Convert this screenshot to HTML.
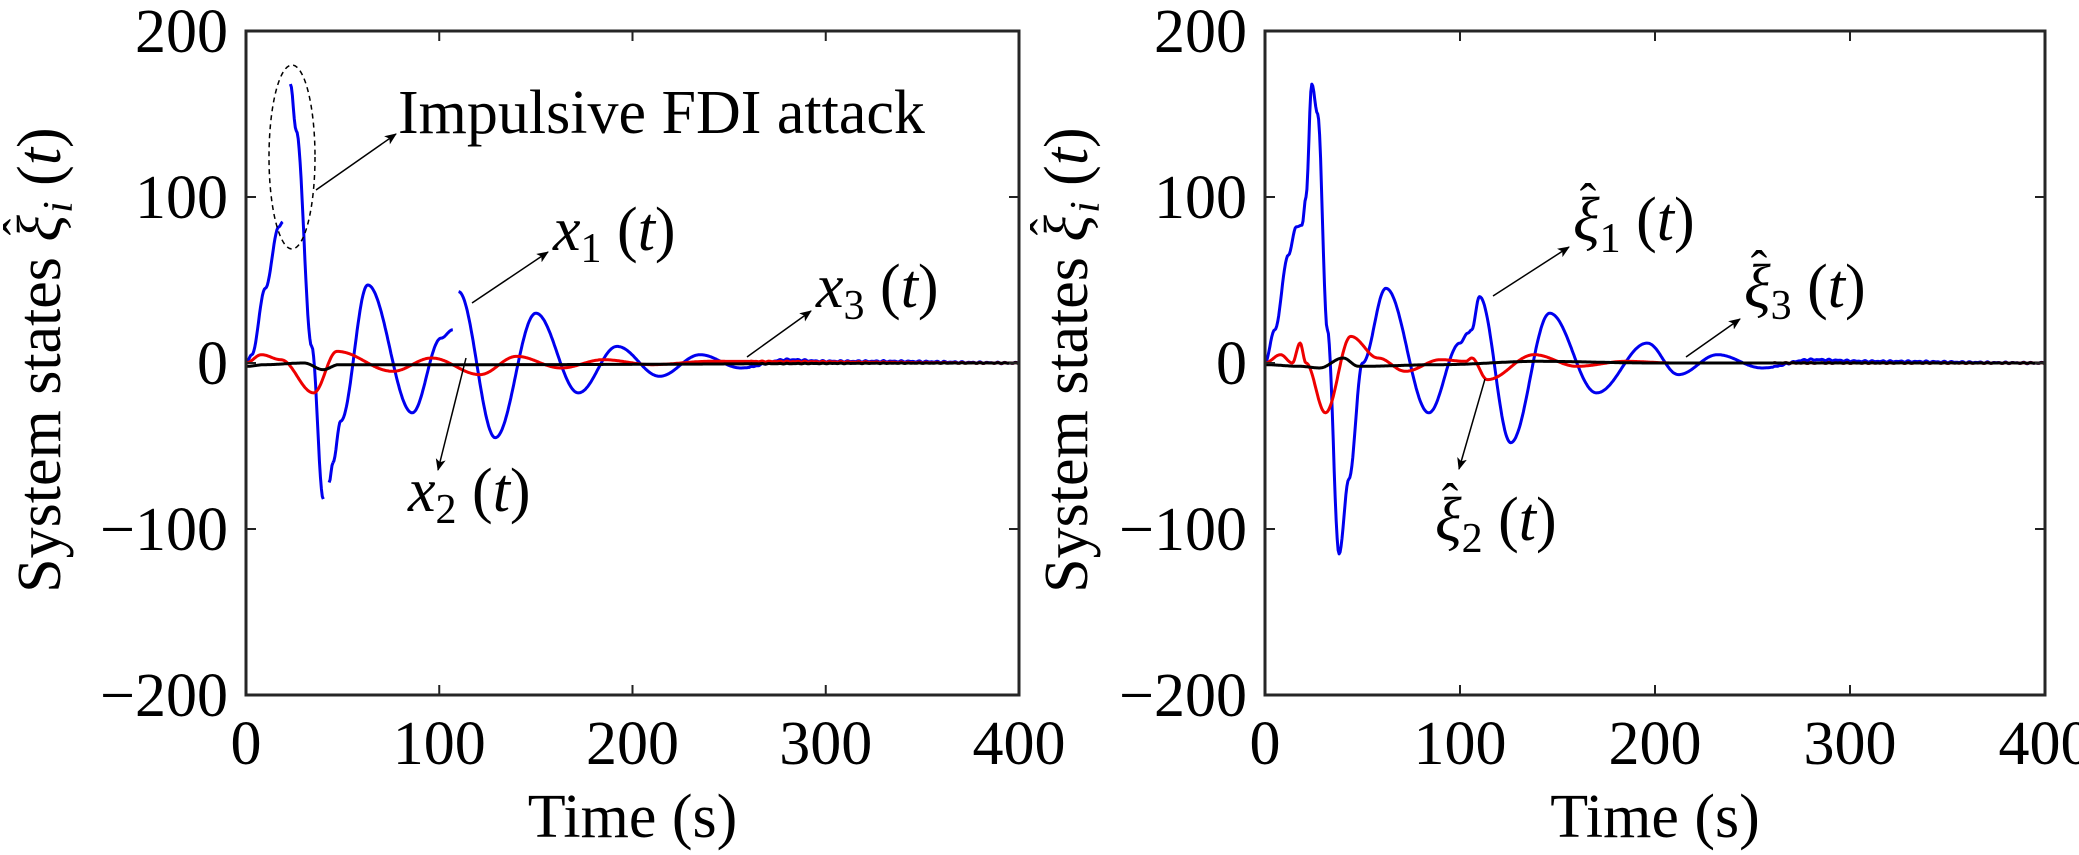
<!DOCTYPE html>
<html><head><meta charset="utf-8"><style>
html,body{margin:0;padding:0;background:#fff}
svg{display:block}
text{font-family:"Liberation Serif",serif;fill:#000}
</style></head><body>
<svg id="s" width="2079" height="855" viewBox="0 0 2079 855" xmlns="http://www.w3.org/2000/svg">
<defs>
<marker id="ar" markerWidth="12" markerHeight="10" refX="11" refY="5" orient="auto" markerUnits="userSpaceOnUse">
<path d="M0,0 L12,5 L0,10 L3,5 Z" fill="#000"/></marker>
</defs>
<g id="g"></g>
<ellipse cx="292" cy="157" rx="23" ry="92" fill="none" stroke="#000" stroke-width="1.5" stroke-dasharray="5,4"/>
<line x1="316" y1="190" x2="396" y2="134" stroke="#000" stroke-width="1.5" marker-end="url(#ar)"/>
<text x="398" y="133" font-size="62">Impulsive FDI attack</text>
<line x1="472" y1="303" x2="548" y2="252" stroke="#000" stroke-width="1.5" marker-end="url(#ar)"/>
<text x="553" y="250" font-size="62"><tspan font-style="italic">x</tspan><tspan font-size="42" dy="12">1</tspan><tspan dy="-12"> (</tspan><tspan font-style="italic">t</tspan>)</text>
<line x1="466" y1="358" x2="438" y2="470" stroke="#000" stroke-width="1.5" marker-end="url(#ar)"/>
<text x="408" y="511" font-size="62"><tspan font-style="italic">x</tspan><tspan font-size="42" dy="12">2</tspan><tspan dy="-12"> (</tspan><tspan font-style="italic">t</tspan>)</text>
<line x1="747" y1="357" x2="811" y2="311" stroke="#000" stroke-width="1.5" marker-end="url(#ar)"/>
<text x="816" y="307" font-size="62"><tspan font-style="italic">x</tspan><tspan font-size="42" dy="12">3</tspan><tspan dy="-12"> (</tspan><tspan font-style="italic">t</tspan>)</text>

<line x1="1493" y1="296" x2="1569" y2="247" stroke="#000" stroke-width="1.5" marker-end="url(#ar)"/>
<text x="1573" y="240" font-size="62"><tspan font-style="italic">ξ</tspan><tspan font-size="42" dy="12">1</tspan><tspan dy="-12"> (</tspan><tspan font-style="italic">t</tspan>)</text>
<text x="1588" y="218" font-size="50" text-anchor="middle">ˆ</text>
<line x1="1485" y1="379" x2="1459" y2="469" stroke="#000" stroke-width="1.5" marker-end="url(#ar)"/>
<text x="1435" y="540" font-size="62"><tspan font-style="italic">ξ</tspan><tspan font-size="42" dy="12">2</tspan><tspan dy="-12"> (</tspan><tspan font-style="italic">t</tspan>)</text>
<text x="1450" y="518" font-size="50" text-anchor="middle">ˆ</text>
<line x1="1686" y1="357" x2="1740" y2="319" stroke="#000" stroke-width="1.5" marker-end="url(#ar)"/>
<text x="1744" y="307" font-size="62"><tspan font-style="italic">ξ</tspan><tspan font-size="42" dy="12">3</tspan><tspan dy="-12"> (</tspan><tspan font-style="italic">t</tspan>)</text>
<text x="1759" y="285" font-size="50" text-anchor="middle">ˆ</text>
</svg>
<script>
(function(){
var NS="http://www.w3.org/2000/svg",g=document.getElementById('g');
var T=31,B=695,Z=363,ky=(B-T)/400;
function el(n,a,txt,p){var e=document.createElementNS(NS,n);for(var k in a)e.setAttribute(k,a[k]);if(txt!=null)e.textContent=txt;(p||g).appendChild(e);return e;}
function interp(kp,t){for(var i=0;i<kp.length-1;i++){if(t>=kp[i][0]&&t<=kp[i+1][0]){var s=(t-kp[i][0])/(kp[i+1][0]-kp[i][0]||1);return kp[i][1]+(kp[i+1][1]-kp[i][1])*(1-Math.cos(Math.PI*s))/2;}}return kp[kp.length-1][1];}
function axes(L,R){
 var kx=(R-L)/400;
 function X(t){return L+t*kx}
 function Y(v){return Z-v*ky}
 function series(segs,col,noise){
  segs.forEach(function(kp){
   var d="",t0=kp[0][0],t1=kp[kp.length-1][0];
   for(var t=t0;t<=t1+1e-9;t+=0.5){var v=interp(kp,t);if(noise&&t>260)v+=noise*Math.sin(t*1.7)*Math.sin(t*0.31);d+=(d?"L":"M")+X(t).toFixed(1)+","+Y(v).toFixed(1);}
   el('path',{d:d,fill:'none',stroke:col,'stroke-width':3,'stroke-linejoin':'round'});
  });
 }
 return {X:X,Y:Y,series:series,L:L,R:R};
}
function frame(a,yl){
 var L=a.L,R=a.R;
 for(var i=0;i<=4;i++){var x=a.X(i*100);
  el('line',{x1:x,y1:B,x2:x,y2:B-10,stroke:'#222','stroke-width':2});
  el('line',{x1:x,y1:T,x2:x,y2:T+10,stroke:'#222','stroke-width':2});
  el('text',{x:x,y:764,'font-size':62,'text-anchor':'middle'},String(i*100));}
 [200,100,0,-100,-200].forEach(function(v){var y=a.Y(v);
  el('line',{x1:L,y1:y,x2:L+10,y2:y,stroke:'#222','stroke-width':2});
  el('line',{x1:R,y1:y,x2:R-10,y2:y,stroke:'#222','stroke-width':2});
  el('text',{x:L-18,y:y+21,'font-size':62,'text-anchor':'end'},(v<0?'\u2212':'')+Math.abs(v));});
 el('rect',{x:L,y:T,width:R-L,height:B-T,fill:'none',stroke:'#262626','stroke-width':3});
 el('text',{x:(L+R)/2,y:837,'font-size':62,'text-anchor':'middle'},'Time (s)');
 var gr=el('g',{transform:'translate('+(yl+22)+',363) rotate(-90)'});
 var t1=el('text',{x:148,y:0,'font-size':62,'text-anchor':'end'},null,gr);
 t1.innerHTML='System states <tspan font-style="italic">ξ</tspan>';
 el('text',{x:136,y:-22,'font-size':50,'text-anchor':'middle'},'ˆ',gr);
 var t2=el('text',{x:150,y:0,'font-size':62},null,gr);
 t2.innerHTML='<tspan font-style="italic" font-size="42" dy="12">i</tspan><tspan dy="-12"> (</tspan><tspan font-style="italic">t</tspan>)';
}
var a=axes(246,1019);
a.series([[[0,0],[3,5],[10,45],[17,82],[19,85]],[[23,168],[26,140],[34,10],[40,-82]],[[43,-72],[45,-60]],
 [[45,-60],[49,-35],[63,47],[86,-30],[101,15],[107,20]],
 [[110,43],[129,-45],[150,30],[172,-18],[192,10],[214,-8],[235,5],[256,-3],[280,2],[300,1],[330,1],[400,0]]],'#0000ee',0.5);
a.series([[[0,0],[8,5],[18,2],[35,-18],[47,7],[76,-5],[96,3],[121,-7],[140,4],[163,-3],[185,2],[210,-1],[240,1],[400,0]]],'#ee0000',0.3);
a.series([[[0,-2],[10,-1],[30,0],[40,-4],[48,-1],[120,-1],[400,0]]],'#000',0.2);
frame(a,38);
var b=axes(1265,2045);
b.series([[[0,0],[5,20],[12,65],[16,82],[19,83],[21,100],[24,168],[27,150],[32,20],[38,-115],[43,-70],[50,0],[62,45],[84,-30],[100,12],[104,18],[106,20],[110,40],[126,-48],[146,30],[170,-18],[196,12],[212,-7],[232,5],[255,-3],[280,2],[310,1],[400,0]]],'#0000ee',0.5);
b.series([[[0,0],[8,5],[14,0],[18,12],[21,0],[31,-30],[44,16],[58,3],[72,-5],[90,2],[103,1],[106,3],[114,-10],[138,5],[160,-2],[185,1],[210,0],[400,0]]],'#ee0000',0.3);
b.series([[[0,-1],[18,-2],[28,-3],[40,3],[48,-2],[90,-1],[140,1],[200,0],[400,0]]],'#000',0.2);
frame(b,1065);
})();
</script>
</body></html>
